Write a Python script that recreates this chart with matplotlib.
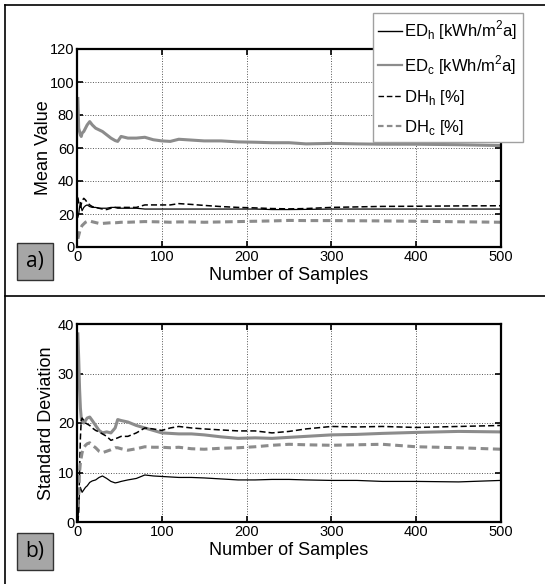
import matplotlib
matplotlib.use("Agg")
import matplotlib.pyplot as plt
from matplotlib.lines import Line2D
from matplotlib.patches import Rectangle

plt.rcParams['font.family'] = ['Liberation Sans', 'DejaVu Sans']
plt.rcParams['mathtext.fontset'] = 'custom'
plt.rcParams['mathtext.rm'] = 'Liberation Sans'

samples = [1, 2, 3, 4, 5, 6, 8, 10, 12, 15, 18, 22, 26, 30, 35, 40, 45, 48, 52, 60,
           70, 80, 90, 100, 110, 120, 135, 150, 170, 190, 210, 230, 250, 270, 300,
           330, 360, 400, 450, 500]

# a) mean values
mean_ed_h = [18, 20, 24, 27, 24, 22, 24, 25, 25.5, 24.5, 24, 24, 23.5, 23.5, 23.5, 24, 24, 23.5, 23.5, 23.5,
             23.5, 23, 23, 23, 23, 23, 23, 23, 23, 23, 23, 22.7, 22.7, 22.8, 23,
             23, 23, 23, 23, 23]
mean_ed_c = [90, 72, 70, 68, 67, 69, 70, 72, 74, 76, 74, 72, 71, 70, 68, 66, 64.5, 64, 67, 66,
             66, 66.5, 65, 64.3, 64, 65.3, 64.8, 64.3, 64.3, 63.7, 63.5, 63.2, 63.2, 62.5, 62.8,
             62.5, 62.3, 62.3, 62, 61.5]
mean_dh_h = [30, 27, 25, 24, 26, 28, 29.5, 28.5, 27, 25.5, 24.5, 24, 23.5, 23, 22.7, 23.5, 24, 24, 24, 24,
             24, 25.5, 25.5, 25.5, 25.5, 26.3, 25.8, 25.2, 24.5, 24, 23.7, 23.3, 23.1, 23.3, 24,
             24.3, 24.6, 24.7, 24.9, 25]
mean_dh_c = [5, 7, 9, 11, 12, 13, 14, 15, 15.5, 15.8, 15.3, 14.8, 14.3, 14.3, 14.5, 14.7, 14.7, 14.8, 15, 15,
             15.2, 15.4, 15.3, 15.2, 15, 15.2, 15.2, 15, 15.2, 15.4, 15.6, 15.8, 16.1, 16, 16,
             15.9, 15.8, 15.6, 15.3, 15]

# b) standard deviations
std_ed_h = [0, 3, 6, 7, 6.5, 6, 6.5, 7, 7.3, 8, 8.3, 8.5, 9, 9.3, 8.8, 8.2, 7.9, 8, 8.2, 8.5,
            8.8, 9.5, 9.3, 9.2, 9.1, 9, 9, 8.9, 8.7, 8.5, 8.5, 8.6, 8.6, 8.5, 8.4,
            8.4, 8.2, 8.2, 8.1, 8.4]
std_ed_c = [38, 33, 27, 23, 21, 20.5, 20, 20.5, 21, 21.2, 20.5, 19.5, 18.5, 18, 18.2, 18, 19, 20.7, 20.5, 20.2,
            19.5, 19, 18.5, 18, 17.9, 17.8, 17.8, 17.6, 17.2, 16.9, 17, 16.9, 17.1, 17.3, 17.6,
            17.7, 17.9, 18.1, 18.3, 18.2]
std_dh_h = [0, 2, 10, 17, 20.5, 21, 20.5, 20, 19.8, 19.5, 19, 18.5, 18.2, 17.8, 17.3, 16.5, 16.8, 17, 17.3, 17.3,
            18, 19, 18.8, 18.5, 19, 19.3, 19, 18.8, 18.6, 18.4, 18.4, 18, 18.3, 18.8, 19.3,
            19.2, 19.3, 19.1, 19.3, 19.5]
std_dh_c = [3, 6, 10, 12, 13, 14, 15, 15.5, 15.8, 16, 15.5, 15, 14.3, 14, 14.3, 14.6, 15, 15, 14.8, 14.5,
            14.8, 15.2, 15.1, 15.1, 15, 15.1, 14.8, 14.7, 14.9, 15, 15.2, 15.5, 15.7, 15.6, 15.5,
            15.6, 15.7, 15.2, 15, 14.7]

labels = [r'ED$_\mathregular{h}$ [kWh/m$^\mathregular{2}$a]',
          r'ED$_\mathregular{c}$ [kWh/m$^\mathregular{2}$a]',
          r'DH$_\mathregular{h}$ [%]',
          r'DH$_\mathregular{c}$ [%]']

W, H = 545, 584
fig = plt.figure(figsize=(W / 100, H / 100), dpi=100)
gray = '#8c8c8c'
styles = [dict(color='black', lw=0.9, ls='-'),
          dict(color=gray, lw=2.2, ls='-'),
          dict(color='black', lw=1.1, ls=(0, (4, 2))),
          dict(color=gray, lw=2.2, ls=(0, (2.5, 1.5)))]


def px(x0, y0, x1, y1):
    return [x0 / W, 1 - y1 / H, (x1 - x0) / W, (y1 - y0) / H]


def setup(ax, ymax, ystep, ylabel, lpad):
    ax.set_xlim(0, 500)
    ax.set_ylim(0, ymax)
    ax.set_xticks(range(0, 501, 100))
    ax.set_yticks(range(0, ymax + 1, ystep))
    ax.grid(True, ls=':', lw=0.7, color='#555555')
    ax.tick_params(direction='in', length=4, width=1.2, top=True, right=True,
                   labelsize=10.5, pad=2)
    for s in ax.spines.values():
        s.set_linewidth(1.6)
    ax.set_xlabel('Number of Samples', fontsize=13, labelpad=2)
    ax.set_ylabel(ylabel, fontsize=13, labelpad=lpad)


ax1 = fig.add_axes(px(77, 49, 501, 247))
for vals, st in zip([mean_ed_h, mean_ed_c, mean_dh_h, mean_dh_c], styles):
    ax1.plot(samples, vals, **st)
setup(ax1, 120, 20, 'Mean Value', -2)

ax2 = fig.add_axes(px(77, 324, 501, 522))
for vals, st in zip([std_ed_h, std_ed_c, std_dh_h, std_dh_c], styles):
    ax2.plot(samples, vals, **st)
setup(ax2, 40, 10, 'Standard Deviation', 2)

handles = [Line2D([], [], color=st['color'], ls=st['ls'], lw=1.0) for st in styles]
handles[1].set_linewidth(1.6)
handles[3].set_linewidth(1.6)
leg = ax1.legend(handles, labels, loc='upper right', bbox_to_anchor=(523 / W, 1 - 13 / H),
                 bbox_transform=fig.transFigure, fancybox=False, framealpha=1,
                 edgecolor='#a0a0a0', fontsize=12, handlelength=1.4, handletextpad=0.15,
                 borderpad=0.35, labelspacing=0.65, borderaxespad=0)
leg.get_frame().set_linewidth(1.0)
leg.set_zorder(10)

# panel tags
for tag, (y0, y1) in [('a)', (243, 280)), ('b)', (533, 570))]:
    fig.add_artist(Rectangle((17 / W, 1 - y1 / H), 36 / W, (y1 - y0) / H,
                             transform=fig.transFigure, facecolor='#a6a6a6',
                             edgecolor='#333333', lw=1.0))
    fig.text(35 / W, 1 - (y0 + y1) / 2 / H, tag, ha='center', va='center',
             fontsize=15, family=['Open Sans', 'DejaVu Sans'])

# outer frame and separator
frame = dict(transform=fig.transFigure, color='black', lw=1.2)
fig.add_artist(Line2D([5 / W, 5 / W], [0, 1 - 5 / H], **frame))
fig.add_artist(Line2D([5 / W, 1], [1 - 5 / H, 1 - 5 / H], **frame))
fig.add_artist(Line2D([5 / W, 1], [1 - 296 / H, 1 - 296 / H], **frame))

fig.savefig('out.png', dpi=100)
